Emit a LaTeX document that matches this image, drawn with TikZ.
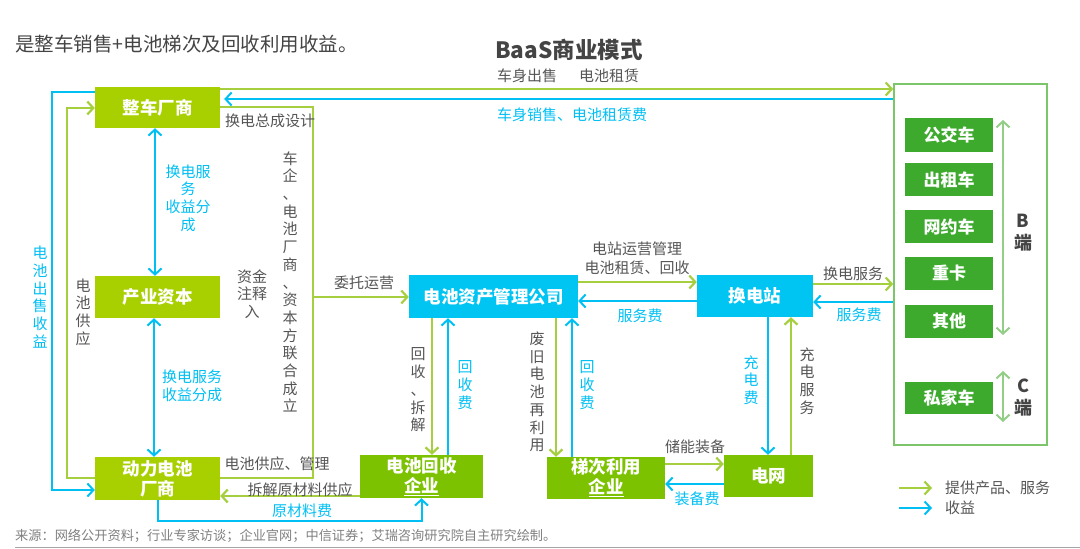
\documentclass[tikz,border=0pt]{standalone}
\usepackage{fontspec}
\setmainfont{Noto Sans CJK SC}
\usetikzlibrary{arrows.meta,calc}
\definecolor{ygnode}{HTML}{A8CF00}
\definecolor{gnode}{HTML}{7CC200}
\definecolor{dgnode}{HTML}{3DAA2E}
\definecolor{cnode}{HTML}{00C4F2}
\definecolor{garrow}{HTML}{A5CF3E}
\definecolor{carrow}{HTML}{00BFF3}
\definecolor{rbgreen}{HTML}{7DC56B}
\definecolor{barrow}{HTML}{92CE86}
\definecolor{lblgray}{HTML}{555555}
\definecolor{srcgray}{HTML}{808080}
\begin{document}
\begin{tikzpicture}[x=1pt,y=-1pt,
  nbox/.style={inner sep=0pt, text=white, align=center,
    font=\fontsize{17.5}{20}\selectfont\bfseries},
  ygbox/.style={nbox, fill=ygnode},
  gbox/.style={nbox, fill=gnode},
  cbox/.style={nbox, fill=cnode},
  dgbox/.style={nbox, fill=dgnode, minimum width=88pt,
    font=\fontsize{17}{19}\selectfont\bfseries},
  lbl/.style={inner sep=0pt, text=lblgray, align=center,
    font=\fontsize{15}{17.7}\selectfont},
  clbl/.style={lbl, text=carrow},
  tip/.style={-{Straight Barb[length=6pt,width=13pt]}},
  dtip/.style={{Straight Barb[length=6pt,width=13pt]}-{Straight Barb[length=6pt,width=13pt]}},
  ga/.style={draw=garrow, line width=2.2pt, tip},
  gl/.style={draw=garrow, line width=2.2pt},
  ca/.style={draw=carrow, line width=2pt, tip},
  cda/.style={draw=carrow, line width=2pt, dtip},
  bda/.style={draw=barrow, line width=2pt, dtip},
]
\useasboundingbox (0,0) rectangle (1080,549);

% headings
\node[anchor=west, inner sep=0pt, text=lblgray!80!black,
  font=\fontsize{19.5}{22}\selectfont] (head) at (15,44) {是整车销售+电池梯次及回收利用收益。};
\node[inner sep=0pt, text=lblgray!80!black,
  font=\fontsize{22.5}{25}\selectfont\bfseries] (title) at (569,50) {BaaS商业模式};

% main nodes
\node[ygbox, minimum width=125pt, minimum height=41pt] (zc) at (157.5,107.5) {整车厂商};
\node[ygbox, minimum width=125pt, minimum height=42pt] (cy) at (157.5,297) {产业资本};
\node[ygbox, minimum width=125pt, minimum height=43pt] (dc) at (157.5,478.5) {动力电池\\厂商};
\node[gbox, minimum width=123pt, minimum height=43pt] (hs) at (421.5,476.5) {电池回收\\\underline{企业}};
\node[cbox, minimum width=169pt, minimum height=43pt] (am) at (493.5,296.5) {电池资产管理公司};
\node[cbox, minimum width=116pt, minimum height=42pt] (hd) at (755,296) {换电站};
\node[gbox, minimum width=118pt, minimum height=42pt] (td) at (606,478) {梯次利用\\\underline{企业}};
\node[gbox, minimum width=89pt, minimum height=42pt] (dw) at (768.5,476) {电网};

% right box
\node[draw=rbgreen, line width=1.6pt, inner sep=0pt,
  minimum width=153pt, minimum height=361pt] (rb) at (970.5,264.5) {};
\node[dgbox, minimum height=34pt] (gj) at (949,135) {公交车};
\node[dgbox, minimum height=33pt] (cz) at (949,179.5) {出租车};
\node[dgbox, minimum height=33pt] (wy) at (949,226.5) {网约车};
\node[dgbox, minimum height=33pt] (zk) at (949,273.5) {重卡};
\node[dgbox, minimum height=33pt] (qt) at (949,321.5) {其他};
\node[dgbox, minimum height=32pt] (sj) at (949,398) {私家车};
\coordinate (b1) at (1003,120);
\coordinate (b2) at (1003,335);
\coordinate (c1) at (1003,371);
\coordinate (c2) at (1003,422);
\draw[bda] (b1) -- (b2);
\draw[bda] (c1) -- (c2);
\node[lbl, text=lblgray!80!black, font=\fontsize{18}{22}\selectfont\bfseries] (bd) at (1023,233) {B\\端};
\node[lbl, text=lblgray!80!black, font=\fontsize{18}{22}\selectfont\bfseries] (cd) at (1023,398) {C\\端};

% top connectors
\draw[ga] (zc.east |- 0,89) -- (rb.west |- 0,89);
\draw[ca] (rb.west |- 0,99) -- ([xshift=4pt]zc.east |- 0,99);
\node[lbl] (l1) at (527,76) {车身出售};
\node[lbl] (l2) at (609,76) {电池租赁};
\node[clbl] (l3) at (572,115) {车身销售、电池租赁费};

% left loops
\draw[ca] (zc.west |- 0,92) -- (52,92) -- (52,490) -- (dc.west |- 0,490);
\draw[ga] (dc.west |- 0,478) -- (67,478) -- (67,108) -- (zc.west |- 0,108);
\node[clbl] (l4) at (40,297) {电\\池\\出\\售\\收\\益};
\node[lbl] (l5) at (83,312) {电\\池\\供\\应};

% vertical double arrows on the left
\draw[cda] (zc.south -| 155,0) -- (cy.north -| 155,0);
\draw[cda] (cy.south -| 154,0) -- (dc.north -| 154,0);
\node[clbl] (l6) at (188,198) {换电服\\务\\收益分\\成};
\node[clbl] (l7) at (192,386) {换电服务\\收益分成};

% joint founding line
\draw[gl] (zc.east |- 0,107) -- (313,107) -- (313,478) -- (dc.east |- 0,478);
\draw[ga] (313,297) -- (am.west |- 0,297);
\node[lbl] (l8) at (270,121) {换电总成设计};
\node[lbl] (l9) at (290,282) {车\\企\\、\\电\\池\\厂\\商\\、\\资\\本\\方\\联\\合\\成\\立};
\node[lbl] (l10) at (252,294) {资金\\注释\\入};
\node[lbl] (l11) at (364,283) {委托运营};
\node[lbl] (l12) at (277,464) {电池供应、管理};

% bottom
\draw[ga] (hs.west |- 0,496) -- (dc.east |- 0,496);
\draw[ca] (dc.south) -- (157.5,521) -- (421.5,521) -- (hs.south);
\node[lbl] (l13) at (300,490) {拆解原材料供应};
\node[clbl] (l14) at (302,511) {原材料费};

% asset company - recycling
\draw[ga] (am.south -| 432,0) -- (hs.north -| 432,0);
\draw[ca] (hs.north -| 448,0) -- (am.south -| 448,0);
\node[lbl] (l15) at (418,390) {回\\收\\、\\拆\\解};
\node[clbl] (l16) at (465,385) {回\\收\\费};

% asset company - cascade use
\draw[ga] (am.south -| 556,0) -- (td.north -| 556,0);
\draw[ca] (td.north -| 572,0) -- (am.south -| 572,0);
\node[lbl] (l17) at (537,392) {废\\旧\\电\\池\\再\\利\\用};
\node[clbl] (l18) at (587,385) {回\\收\\费};

% asset company - swap station
\draw[ga] (am.east |- 0,282) -- (hd.west |- 0,282);
\draw[ca] (hd.west |- 0,301) -- (am.east |- 0,301);
\node[lbl, font=\fontsize{15}{19}\selectfont] (l19) at (637,258) {电站运营管理\\电池租赁、回收};
\node[clbl] (l20) at (640,316) {服务费};

% swap station - customers
\draw[ga] (hd.east |- 0,284) -- (rb.west |- 0,284);
\draw[ca] (rb.west |- 0,302) -- (hd.east |- 0,302);
\node[lbl] (l21) at (853,274) {换电服务};
\node[clbl] (l22) at (859,315) {服务费};

% swap station - grid
\draw[ca] (hd.south -| 768,0) -- (dw.north -| 768,0);
\draw[ga] (dw.north -| 791,0) -- (hd.south -| 791,0);
\node[clbl] (l23) at (751,380) {充\\电\\费};
\node[lbl] (l24) at (807,381) {充\\电\\服\\务};

% cascade - grid
\draw[ga] (td.east |- 0,464) -- (dw.west |- 0,464);
\draw[ca] (dw.west |- 0,484) -- (td.east |- 0,484);
\node[lbl] (l25) at (695,447) {储能装备};
\node[clbl] (l26) at (697,499) {装备费};

% legend
\coordinate (lg1) at (899,488);
\coordinate (lg2) at (932,488);
\coordinate (lg3) at (899,508);
\coordinate (lg4) at (932,508);
\draw[ga] (lg1) -- (lg2);
\draw[ca] (lg3) -- (lg4);
\node[lbl, anchor=west] (lg5) at (945,488) {提供产品、服务};
\node[lbl, anchor=west] (lg6) at (945,508) {收益};

% source
\node[anchor=west, inner sep=0pt, text=srcgray, font=\fontsize{13.2}{15}\selectfont] (src) at (15,536)
  {来源：网络公开资料；行业专家访谈；企业官网；中信证券；艾瑞咨询研究院自主研究绘制。};
\coordinate (s1) at (15,547.5);
\coordinate (s2) at (1080,547.5);
\draw[draw=srcgray!70, line width=1.5pt] (s1) -- (s2);
\end{tikzpicture}
\end{document}
